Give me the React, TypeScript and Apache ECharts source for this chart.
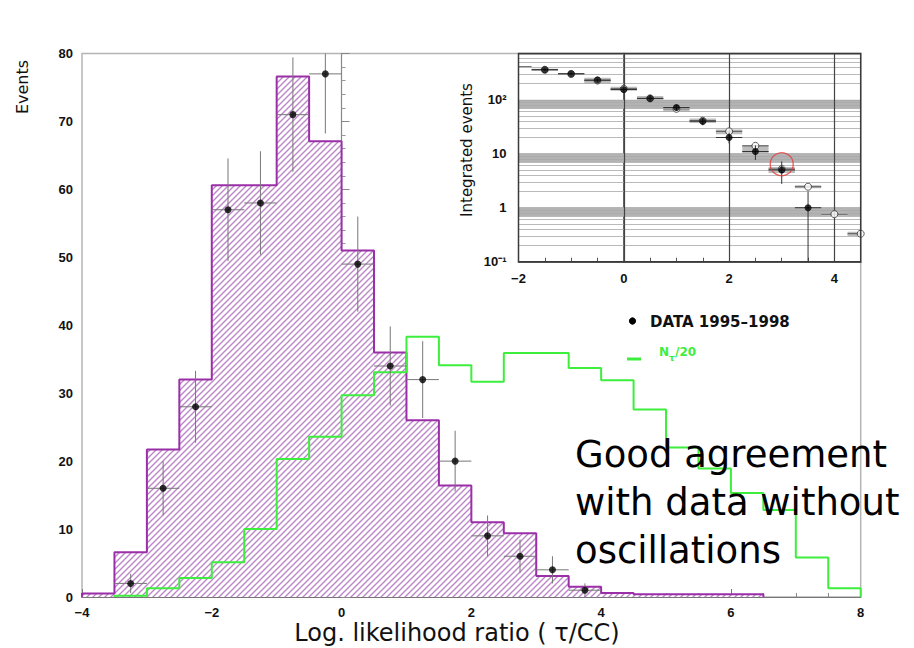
import React, { useEffect, useRef } from "react";
import * as echarts from "echarts";

// ---------- main histogram data ----------
const binEdges = [-4, -3.5, -3, -2.5, -2, -1.5, -1, -0.5, 0, 0.5, 1, 1.5, 2, 2.5, 3, 3.5, 4, 4.5, 5, 5.5, 6, 6.5, 7, 7.5, 8];
// expectation without oscillation (hatched purple), bins starting at -4
const noOscCounts = [0.5, 6.6, 21.7, 32.0, 60.6, 60.6, 76.6, 67.1, 51.0, 36.0, 26.0, 16.4, 11.0, 9.4, 3.1, 1.5, 0.6, 0.4, 0.4, 0.4, 0.4];
// N_tau / 20 (green), bins starting at -3.5
const tauStartIndex = 1;
const tauCounts = [0.2, 1.3, 2.8, 5.1, 10.0, 20.3, 23.6, 29.7, 33.1, 38.3, 34.1, 31.7, 35.9, 35.9, 33.7, 31.9, 27.6, 22.0, 18.9, 15.3, 12.8, 5.8, 1.3];
// DATA 1995-1998
const dataX = [-3.25, -2.75, -2.25, -1.75, -1.25, -0.75, -0.25, 0.25, 0.75, 1.25, 1.75, 2.25, 2.75, 3.25, 3.75];
const dataCounts = [2, 16, 28, 57, 58, 71, 77, 49, 34, 32, 20, 9, 6, 4, 1];
const halfBin = 0.25;

// ---------- inset: integrated events ----------
const intX = [-1.5, -1, -0.5, 0, 0.5, 1, 1.5, 2, 2.5, 3, 3.5];
const intData = [361, 303, 232, 155, 106, 72, 40, 20, 11, 5, 1];
const intMcBarX = [-2];
const intMcBar = [410];
const intMcX = [-1.5, -1, -0.5, 0, 0.5, 1, 1.5, 2, 2.5, 3, 3.5, 4, 4.5];
const intMc = [360, 300, 227, 160, 106, 68, 41, 26, 14, 5.2, 2.45, 0.76, 0.33];
const intMcLow = [345, 290, 201, 147, 96, 60, 37, 23, 9.5, 4.4, 2.3, 0.7, 0.3];
const intMcHigh = [375, 315, 255, 174, 117, 77, 45, 28, 14.5, 5.7, 2.6, 0.82, 0.36];
const highlight = [[3, 6.4]];
const insetGridValues = [
  0.2, 0.3, 0.4, 0.5, 0.6, 0.7, 0.8, 0.9,
  1, 2, 3, 4, 5, 6, 7, 8, 9,
  10, 20, 30, 40, 50, 60, 70, 80, 90,
  100, 200, 300, 400, 500, 600, 700,
];
const insetBands = [[0.7, 1], [7, 10], [70, 100]];
const insetVLines = [0, 2, 4];
const insetYLabels: Record<string, string> = { "0.1": "10⁻¹", "1": "1", "10": "10", "100": "10²" };

const PURPLE = "#9a2fa8";
const GREEN = "#3dee3d";
const ERR = "#777";

function stepData(edges: number[], counts: number[], start: number) {
  const pts: number[][] = [[edges[start], 0]];
  counts.forEach((c, i) => pts.push([edges[start + i], c]));
  const endEdge = edges[start + counts.length];
  pts.push([endEdge, counts[counts.length - 1]]);
  pts.push([endEdge, 0]);
  return pts;
}

function errRender(color: string) {
  return (params: any, api: any) => {
    const x = api.value(0), y = api.value(1);
    const a = api.coord([api.value(2), y]);
    const b = api.coord([api.value(3), y]);
    const d = api.coord([x, api.value(4)]);
    const e = api.coord([x, api.value(5)]);
    return {
      type: "group",
      children: [
        { type: "line", shape: { x1: a[0], y1: a[1], x2: b[0], y2: b[1] }, style: { stroke: color, lineWidth: 1 } },
        { type: "line", shape: { x1: d[0], y1: d[1], x2: e[0], y2: e[1] }, style: { stroke: color, lineWidth: 1 } },
      ],
    };
  };
}

function boxRender(params: any, api: any) {
  const x = api.value(0);
  const p1 = api.coord([x - halfBin, api.value(2)]);
  const p2 = api.coord([x + halfBin, api.value(1)]);
  return {
    type: "rect",
    shape: { x: p1[0], y: p1[1], width: p2[0] - p1[0], height: p2[1] - p1[1] },
    style: { fill: "#bdbdbd" },
  };
}

function hatchCanvas() {
  const s = 6;
  const c = document.createElement("canvas");
  c.width = s;
  c.height = s;
  const ctx = c.getContext("2d")!;
  ctx.fillStyle = "#ffffff";
  ctx.fillRect(0, 0, s, s);
  ctx.strokeStyle = "#bc86c9";
  ctx.lineWidth = 1.4;
  ctx.beginPath();
  ctx.moveTo(-1, s + 1); ctx.lineTo(s + 1, -1);
  ctx.moveTo(-s / 2 - 1, s / 2 + 1); ctx.lineTo(s / 2 + 1, -s / 2 - 1);
  ctx.moveTo(s / 2 - 1, s * 1.5 + 1); ctx.lineTo(s * 1.5 + 1, s / 2 - 1);
  ctx.stroke();
  return c;
}

export default function App() {
  const ref = useRef<HTMLDivElement>(null);
  useEffect(() => {
    if (!ref.current) return;
    const chart = echarts.init(ref.current, undefined, { renderer: "svg" });
    const tickLabel = { fontFamily: "Liberation Sans", fontWeight: "bold" as const, fontSize: 13, color: "#111" };
    const minus = (v: number) => String(v).replace("-", "−");

    const option: any = {
      animation: false,
      backgroundColor: "#ffffff",
      textStyle: { fontFamily: "Liberation Sans" },
      grid: [
        { left: 82, top: 53.5, right: 53.3, bottom: 51, show: true, borderColor: "#b5b5b5", borderWidth: 1.5 },
        { left: 518.5, top: 53.5, right: 53.3, bottom: 386.3, show: true, backgroundColor: "#ffffff", borderColor: "#333", borderWidth: 0 },
      ],
      xAxis: [
        {
          type: "value", gridIndex: 0, min: -4, max: 8, interval: 2,
          axisLine: { lineStyle: { color: "#777", width: 1.2 } },
          axisTick: { inside: true, length: 8, lineStyle: { color: "#777" } },
          minorTick: { show: true, splitNumber: 4, length: 4, lineStyle: { color: "#888" } },
          splitLine: { show: false },
          axisLabel: { ...tickLabel, margin: 9, formatter: minus },
        },
        {
          type: "value", gridIndex: 1, min: -2, max: 4.5, interval: 2,
          axisLine: { lineStyle: { color: "#333", width: 1.5 } },
          axisTick: { inside: true, length: 5, lineStyle: { color: "#444" } },
          minorTick: { show: true, splitNumber: 4, length: 4, lineStyle: { color: "#555" } },
          splitLine: { show: false },
          axisLabel: { ...tickLabel, margin: 10, showMaxLabel: false, formatter: minus },
        },
      ],
      yAxis: [
        {
          type: "value", gridIndex: 0, min: 0, max: 80, interval: 10,
          axisLine: { show: true, lineStyle: { color: "#888", width: 1.2 } },
          axisTick: { inside: true, length: 8, lineStyle: { color: "#888" } },
          minorTick: { show: true, splitNumber: 5, length: 4, lineStyle: { color: "#999" } },
          splitLine: { show: false },
          axisLabel: { ...tickLabel, margin: 9 },
        },
        {
          type: "log", gridIndex: 1, min: 0.1, max: 720, logBase: 10,
          axisLine: { show: true, lineStyle: { color: "#333", width: 1.5 } },
          axisTick: { show: false },
          splitLine: { show: false },
          axisLabel: {
            ...tickLabel, margin: 12, showMaxLabel: false,
            formatter: (v: number) => {
              const k = String(Math.round(v * 1000) / 1000);
              return insetYLabels[k] ?? "";
            },
          },
        },
      ],
      series: [
        // ----- main chart -----
        {
          type: "line", name: "noosc", xAxisIndex: 0, yAxisIndex: 0, step: "end", symbol: "none", z: 2,
          data: stepData(binEdges, noOscCounts, 0),
          lineStyle: { color: PURPLE, width: 2 },
          areaStyle: { color: { image: hatchCanvas(), repeat: "repeat" }, opacity: 1 },
        },
        {
          type: "line", name: "tau", xAxisIndex: 0, yAxisIndex: 0, step: "end", symbol: "none", z: 3,
          data: stepData(binEdges, tauCounts, tauStartIndex),
          lineStyle: { color: GREEN, width: 2 },
        },
        {
          type: "custom", xAxisIndex: 0, yAxisIndex: 0, z: 4, clip: true,
          renderItem: errRender(ERR),
          encode: { x: 0, y: 1 },
          data: dataX.map((x, i) => {
            const v = dataCounts[i];
            return [x, v, x - halfBin, x + halfBin, v - Math.sqrt(v), v + Math.sqrt(v)];
          }),
        },
        {
          type: "scatter", xAxisIndex: 0, yAxisIndex: 0, z: 5, symbolSize: 7,
          itemStyle: { color: "#000" },
          data: dataX.map((x, i) => [x, dataCounts[i]]),
        },
        // ----- inset -----
        {
          type: "scatter", xAxisIndex: 1, yAxisIndex: 1, z: 1, data: [], silent: true,
          markArea: {
            silent: true,
            itemStyle: { color: "#b3b3b3" },
            data: insetBands.map(([a, b]) => [{ yAxis: a }, { yAxis: b }]),
          },
          markLine: {
            silent: true, symbol: "none", label: { show: false },
            lineStyle: { color: "#a8a8a8", width: 0.8, type: "solid" },
            data: insetGridValues.map((v) => ({ yAxis: v })),
          },
        },
        {
          type: "scatter", xAxisIndex: 1, yAxisIndex: 1, z: 2, data: [], silent: true,
          markLine: {
            silent: true, symbol: "none", label: { show: false },
            lineStyle: { color: "#444", width: 1.2, type: "solid" },
            data: insetVLines.map((v) => ({ xAxis: v })),
          },
        },
        {
          type: "custom", xAxisIndex: 1, yAxisIndex: 1, z: 3, clip: true,
          renderItem: boxRender,
          encode: { x: 0, y: 1 },
          data: intMcX.map((x, i) => [x, intMcLow[i], intMcHigh[i]]),
        },
        {
          type: "custom", xAxisIndex: 1, yAxisIndex: 1, z: 4, clip: true,
          renderItem: errRender("#555"),
          encode: { x: 0, y: 1 },
          data: intMcX.map((x, i) => [x, intMc[i], x - halfBin, x + halfBin, intMc[i], intMc[i]])
            .concat(intMcBarX.map((x, i) => [x, intMcBar[i], x - halfBin, x + halfBin, intMcBar[i], intMcBar[i]])),
        },
        {
          type: "scatter", xAxisIndex: 1, yAxisIndex: 1, z: 5, symbolSize: 7, clip: true,
          itemStyle: { color: "#ffffff", borderColor: "#333", borderWidth: 1 },
          data: intMcX.map((x, i) => [x, intMc[i]]),
        },
        {
          type: "custom", xAxisIndex: 1, yAxisIndex: 1, z: 6, clip: true,
          renderItem: errRender("#333"),
          encode: { x: 0, y: 1 },
          data: intX.map((x, i) => {
            const v = intData[i];
            return [x, v, x - halfBin, x + halfBin, Math.max(v - Math.sqrt(v), 0.01), v + Math.sqrt(v)];
          }),
        },
        {
          type: "scatter", xAxisIndex: 1, yAxisIndex: 1, z: 7, symbolSize: 7, clip: true,
          itemStyle: { color: "#000" },
          data: intX.map((x, i) => [x, intData[i]]),
        },
        {
          type: "scatter", xAxisIndex: 1, yAxisIndex: 1, z: 8, symbolSize: 23,
          itemStyle: { color: "rgba(0,0,0,0)", borderColor: "#e23a3a", borderWidth: 1.3 },
          data: highlight,
        },
      ],
      graphic: [
        // inset frame
        {
          type: "rect", z: 100, silent: true,
          shape: { x: 518.5, y: 53.5, width: 342.2, height: 208.2 },
          style: { fill: "none", stroke: "#3a3a3a", lineWidth: 1.5 },
        },
        {
          type: "text", x: 22, y: 87, rotation: Math.PI / 2, z: 100,
          style: { text: "Events", fontFamily: "DejaVu Sans", fontSize: 16, fill: "#111", align: "center", verticalAlign: "middle" },
        },
        {
          type: "text", x: 457, y: 633, z: 100,
          style: { text: "Log. likelihood ratio ( τ/CC)", fontFamily: "DejaVu Sans", fontSize: 24, fill: "#111", align: "center", verticalAlign: "middle" },
        },
        {
          type: "text", x: 467, y: 150, rotation: Math.PI / 2, z: 100,
          style: { text: "Integrated events", fontFamily: "DejaVu Sans", fontSize: 15, fill: "#111", align: "center", verticalAlign: "middle" },
        },
        // legend
        { type: "circle", z: 100, shape: { cx: 632.5, cy: 321, r: 3.6 }, style: { fill: "#000" } },
        {
          type: "text", x: 650, y: 322, z: 100,
          style: { text: "DATA 1995–1998", fontFamily: "DejaVu Sans", fontWeight: "bold", fontSize: 15, fill: "#111", verticalAlign: "middle" },
        },
        { type: "rect", z: 100, shape: { x: 627, y: 357.5, width: 14, height: 3 }, style: { fill: GREEN } },
        {
          type: "text", x: 659, y: 352, z: 100,
          style: { text: "N", fontFamily: "DejaVu Sans", fontWeight: "bold", fontSize: 12, fill: GREEN, verticalAlign: "middle" },
        },
        {
          type: "text", x: 669, y: 358, z: 100,
          style: { text: "τ", fontFamily: "DejaVu Sans", fontWeight: "bold", fontSize: 9, fill: GREEN, verticalAlign: "middle" },
        },
        {
          type: "text", x: 675, y: 352, z: 100,
          style: { text: "/20", fontFamily: "DejaVu Sans", fontWeight: "bold", fontSize: 12, fill: GREEN, verticalAlign: "middle" },
        },
        // annotation
        {
          type: "text", x: 575, y: 454, z: 100,
          style: { text: "Good agreement", fontFamily: "DejaVu Sans", fontSize: 37, fill: "#000", verticalAlign: "middle" },
        },
        {
          type: "text", x: 575, y: 502, z: 100,
          style: { text: "with data without", fontFamily: "DejaVu Sans", fontSize: 37, fill: "#000", verticalAlign: "middle" },
        },
        {
          type: "text", x: 575, y: 550, z: 100,
          style: { text: "oscillations", fontFamily: "DejaVu Sans", fontSize: 37, fill: "#000", verticalAlign: "middle" },
        },
      ],
    };
    chart.setOption(option);
    return () => chart.dispose();
  }, []);
  return <div ref={ref} style={{ position: "fixed", left: 0, top: 0, width: 914, height: 648, background: "#fff" }} />;
}
